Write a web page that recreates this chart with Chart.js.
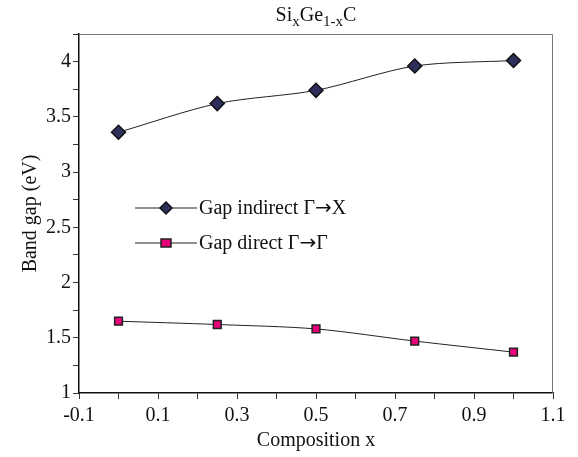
<!DOCTYPE html>
<html>
<head>
<meta charset="utf-8">
<script src="https://cdn.jsdelivr.net/npm/chart.js@4"></script>
<style>
  html, body { margin: 0; padding: 0; background: #fff; }
  #wrap { position: relative; width: 578px; height: 457px; }
  #titulo {
    position: absolute; left: 79px; width: 474px; top: 3px;
    text-align: center; font-family: 'Liberation Serif', serif; font-size: 20px; color: #111;
  }
  #titulo sub { font-size: 15px; vertical-align: -5px; line-height: 0; }
</style>
</head>
<body>
<div id="wrap">
  <canvas id="gap_Chart" width="578" height="457"></canvas>
  <div id="titulo">Si<sub>x</sub>Ge<sub>1-x</sub>C</div>
</div>
<script>
// dados do gráfico
const composicao = [0, 0.25, 0.5, 0.75, 1];
const gapIndireto = [3.36, 3.62, 3.74, 3.96, 4.01];
const gapDireto = [1.65, 1.62, 1.58, 1.47, 1.37];
const rotulos = ['Gap indirect \u0393\u2192X', 'Gap direct \u0393\u2192\u0393'];

const fonte = "'Liberation Serif', serif";
const chartCanvas = document.getElementById('gap_Chart');

function pares(xs, ys) {
  return xs.map((x, i) => ({ x: x, y: ys[i] }));
}

// moldura cinza em cima e à direita
const moldura = {
  id: 'moldura',
  afterDraw(chart) {
    const a = chart.chartArea, ctx = chart.ctx;
    ctx.save();
    ctx.strokeStyle = '#777';
    ctx.lineWidth = 1;
    ctx.beginPath();
    ctx.moveTo(a.left, a.top + 0.5);
    ctx.lineTo(a.right - 0.5, a.top + 0.5);
    ctx.lineTo(a.right - 0.5, a.bottom);
    ctx.stroke();
    ctx.restore();
  }
};

// legenda dentro da área do gráfico (a seta vem de outra fonte, mais larga)
const legenda = {
  id: 'legenda',
  afterDraw(chart) {
    const a = chart.chartArea, ctx = chart.ctx;
    ctx.save();
    chart.data.datasets.forEach((ds, i) => {
      const y = a.top + 174 + i * 35;
      const x0 = a.left + 56, x1 = a.left + 118, xm = (x0 + x1) / 2;
      ctx.strokeStyle = '#222';
      ctx.lineWidth = 1;
      ctx.beginPath();
      ctx.moveTo(x0, y); ctx.lineTo(x1, y);
      ctx.stroke();
      ctx.fillStyle = ds.pointBackgroundColor;
      ctx.strokeStyle = ds.pointBorderColor;
      ctx.lineWidth = 1.5;
      ctx.beginPath();
      if (ds.pointStyle === 'rectRot') {
        ctx.moveTo(xm, y - 6); ctx.lineTo(xm + 6, y); ctx.lineTo(xm, y + 6); ctx.lineTo(xm - 6, y);
        ctx.closePath();
      } else {
        ctx.rect(xm - 5, y - 4, 10, 8);
      }
      ctx.fill(); ctx.stroke();
      ctx.fillStyle = '#111';
      ctx.textBaseline = 'middle';
      const partes = ds.label.split('\u2192');
      let x = x1 + 2;
      ctx.font = '20px ' + fonte;
      ctx.fillText(partes[0], x, y + 1);
      x += ctx.measureText(partes[0]).width;
      ctx.font = '20px "DejaVu Sans"';
      ctx.fillText('\u2192', x, y + 1);
      x += ctx.measureText('\u2192').width;
      ctx.font = '20px ' + fonte;
      ctx.fillText(partes[1], x, y + 1);
    });
    ctx.restore();
  }
};

const data = {
  datasets: [{
    label: rotulos[0],
    data: pares(composicao, gapIndireto),
    borderColor: '#222',
    borderWidth: 1,
    tension: 0.3,
    pointStyle: 'rectRot',
    pointRadius: 7,
    pointBackgroundColor: '#2e2f5c',
    pointBorderColor: '#111',
    pointBorderWidth: 1.5,
    fill: false
  },
  {
    label: rotulos[1],
    data: pares(composicao, gapDireto),
    borderColor: '#222',
    borderWidth: 1,
    tension: 0.3,
    pointStyle: 'rect',
    pointRadius: 5.5,
    pointBackgroundColor: '#e6007a',
    pointBorderColor: '#222',
    pointBorderWidth: 1.5,
    fill: false
  }]
};

const config = {
  type: 'line',
  data: data,
  plugins: [moldura, legenda],
  options: {
    responsive: false,
    animation: false,
    layout: { padding: { left: 0, right: 25, top: 34, bottom: 0 } },
    plugins: {
      legend: { display: false },
      tooltip: { enabled: false }
    },
    scales: {
      x: {
        type: 'linear',
        min: -0.1,
        max: 1.1,
        afterFit(s) { s.height = 64; },
        border: { color: '#111', width: 1.5 },
        grid: { drawOnChartArea: false, tickLength: 6, color: '#333' },
        ticks: {
          stepSize: 0.1,
          autoSkip: false,
          maxRotation: 0,
          color: '#111',
          font: { family: fonte, size: 20 },
          padding: 5,
          callback: v => (Math.round(v * 10) % 2 !== 0) ? (Math.round(v * 10) / 10).toString() : ''
        },
        title: {
          display: true,
          text: 'Composition x',
          color: '#111',
          font: { family: fonte, size: 20 },
          padding: { top: 0 }
        }
      },
      y: {
        min: 1,
        max: 4.25,
        afterFit(s) { s.width = 79; },
        border: { color: '#111', width: 1.5 },
        grid: { drawOnChartArea: false, tickLength: 6, color: '#333' },
        ticks: {
          stepSize: 0.25,
          autoSkip: false,
          color: '#111',
          font: { family: fonte, size: 20 },
          padding: 2,
          callback: v => (Math.round(v * 4) % 2 === 0) ? (Math.round(v * 2) / 2).toString() : ''
        },
        title: {
          display: true,
          text: 'Band gap (eV)',
          color: '#111',
          font: { family: fonte, size: 20 },
          padding: { top: 19, bottom: 0 }
        }
      }
    }
  }
};

const myChart = new Chart(chartCanvas, config);
</script>
</body>
</html>
